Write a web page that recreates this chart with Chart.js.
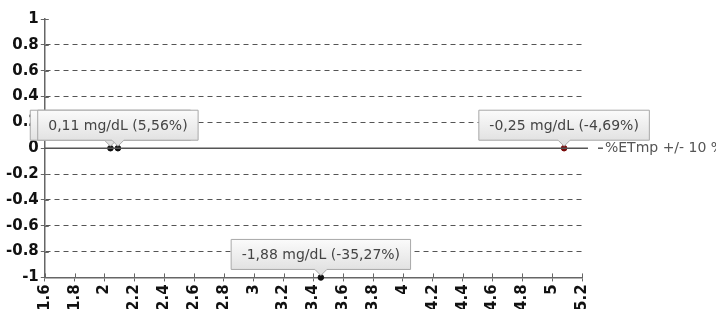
<!DOCTYPE html>
<html>
<head>
<meta charset="utf-8">
<script src="https://cdn.jsdelivr.net/npm/chart.js@4/dist/chart.umd.min.js"></script>
<style>
  html, body { margin: 0; padding: 0; background: #fff; overflow: hidden; }
  #wrap { width: 716px; height: 309px; overflow: hidden; }
</style>
</head>
<body>
<div id="wrap"><canvas id="chart" width="716" height="314"></canvas></div>
<script>
// values
const pointX = [2.04, 2.09, 5.08, 3.45];
const pointY = [0, 0, 0, -1];
const pointColors = ["#111111", "#111111", "#7a0a0a", "#111111"];
const pointLabels = [
  "0,11 mg/dL (5,56%)",
  "0,11 mg/dL (5,56%)",
  "-0,25 mg/dL (-4,69%)",
  "-1,88 mg/dL (-35,27%)",
];
const limitLabel = "%ETmp +/- 10 %";
const limitX = [1.6, 5.24];
const limitY = [0, 0];
const xTickLabels = ["1.6", "1.8", "2", "2.2", "2.4", "2.6", "2.8", "3", "3.2", "3.4",
  "3.6", "3.8", "4", "4.2", "4.4", "4.6", "4.8", "5", "5.2"];
const yTickLabels = ["-1", "-0.8", "-0.6", "-0.4", "-0.2", "0", "0.2", "0.4", "0.6", "0.8", "1"];

const tickFont = { family: "DejaVu Sans", size: 15, weight: "bold" };

// small tick marks crossing the axes, under the callouts
const innerTicks = {
  id: "innerTicks",
  beforeDatasetsDraw(chart) {
    const ctx = chart.ctx;
    const xs = chart.scales.x, ys = chart.scales.y;
    ctx.save();
    ctx.strokeStyle = "#666";
    ctx.lineWidth = 1;
    xs.ticks.forEach(t => {
      const px = Math.round(xs.getPixelForValue(t.value)) + 0.5;
      ctx.beginPath();
      ctx.moveTo(px, ys.bottom);
      ctx.lineTo(px, ys.bottom - 4);
      ctx.stroke();
    });
    ys.ticks.forEach(t => {
      const py = Math.round(ys.getPixelForValue(t.value)) + 0.5;
      ctx.beginPath();
      ctx.moveTo(xs.left, py);
      ctx.lineTo(xs.left + 4, py);
      ctx.stroke();
    });
    ctx.restore();
  },
};

// callout boxes above each point + legend text at end of the line
const calloutPlugin = {
  id: "callouts",
  afterDatasetsDraw(chart) {
    const ctx = chart.ctx;
    const meta = chart.getDatasetMeta(1);
    ctx.save();
    ctx.font = "14px 'DejaVu Sans'";
    meta.data.forEach((pt, i) => {
      const text = pointLabels[i];
      const w = ctx.measureText(text).width + 21;
      const h = 30;
      const left = pt.x - w / 2;
      const bottom = pt.y - 8;
      const top = bottom - h;
      const grad = ctx.createLinearGradient(0, top, 0, bottom);
      grad.addColorStop(0, "#fbfbfb");
      grad.addColorStop(1, "#e2e2e2");
      ctx.beginPath();
      ctx.moveTo(left, top);
      ctx.lineTo(left + w, top);
      ctx.lineTo(left + w, bottom);
      ctx.lineTo(pt.x + 6, bottom);
      ctx.lineTo(pt.x, bottom + 6);
      ctx.lineTo(pt.x - 6, bottom);
      ctx.lineTo(left, bottom);
      ctx.closePath();
      ctx.fillStyle = grad;
      ctx.fill();
      ctx.strokeStyle = "#a8a8a8";
      ctx.lineWidth = 1;
      ctx.stroke();
      ctx.fillStyle = "#444";
      ctx.textAlign = "center";
      ctx.textBaseline = "middle";
      ctx.fillText(text, pt.x, top + h / 2 + 1);
    });
    // legend next to the end of the limit line
    const line = chart.getDatasetMeta(0).data;
    const end = line[line.length - 1];
    ctx.strokeStyle = "#555";
    ctx.lineWidth = 1.5;
    ctx.beginPath();
    ctx.moveTo(end.x + 10, end.y);
    ctx.lineTo(end.x + 15, end.y);
    ctx.stroke();
    ctx.fillStyle = "#555";
    ctx.textAlign = "left";
    ctx.textBaseline = "middle";
    ctx.fillText(limitLabel, end.x + 17, end.y);
    ctx.restore();
  },
};

new Chart(document.getElementById("chart"), {
  type: "line",
  data: {
    datasets: [
      {
        label: limitLabel,
        data: limitX.map((x, i) => ({ x: x, y: limitY[i] })),
        borderColor: "#555",
        borderWidth: 1.5,
        pointRadius: 0,
        clip: false,
      },
      {
        label: "points",
        data: pointX.map((x, i) => ({ x: x, y: pointY[i] })),
        showLine: false,
        pointRadius: 2.8,
        pointBackgroundColor: pointColors,
        pointBorderColor: pointColors,
        clip: false,
      },
    ],
  },
  options: {
    responsive: false,
    animation: false,
    layout: { padding: { left: 4, right: 134, top: 19, bottom: 0 } },
    plugins: {
      legend: { display: false },
      tooltip: { enabled: false },
    },
    scales: {
      x: {
        type: "linear",
        min: 1.6,
        max: 5.2,
        ticks: {
          stepSize: 0.2,
          minRotation: 90,
          maxRotation: 90,
          padding: 3,
          color: "#111",
          font: tickFont,
          callback: (v, i) => xTickLabels[i],
        },
        grid: { drawOnChartArea: false, tickLength: 4, tickColor: "#666" },
        border: { color: "#666", width: 1.5 },
      },
      y: {
        min: -1,
        max: 1,
        ticks: {
          stepSize: 0.2,
          padding: 2,
          color: "#111",
          font: tickFont,
          callback: (v, i) => yTickLabels[i],
        },
        grid: {
          color: (c) => {
            const v = c.tick ? Math.round(c.tick.value * 10) : 0;
            return (v === 10 || v === -10 || v === 0) ? "rgba(0,0,0,0)" : "#555";
          },
          tickColor: "#666",
          tickLength: 4,
          lineWidth: 1,
        },
        border: { color: "#666", width: 1.5, dash: [5, 4] },
      },
    },
  },
  plugins: [innerTicks, calloutPlugin],
});
</script>
</body>
</html>
